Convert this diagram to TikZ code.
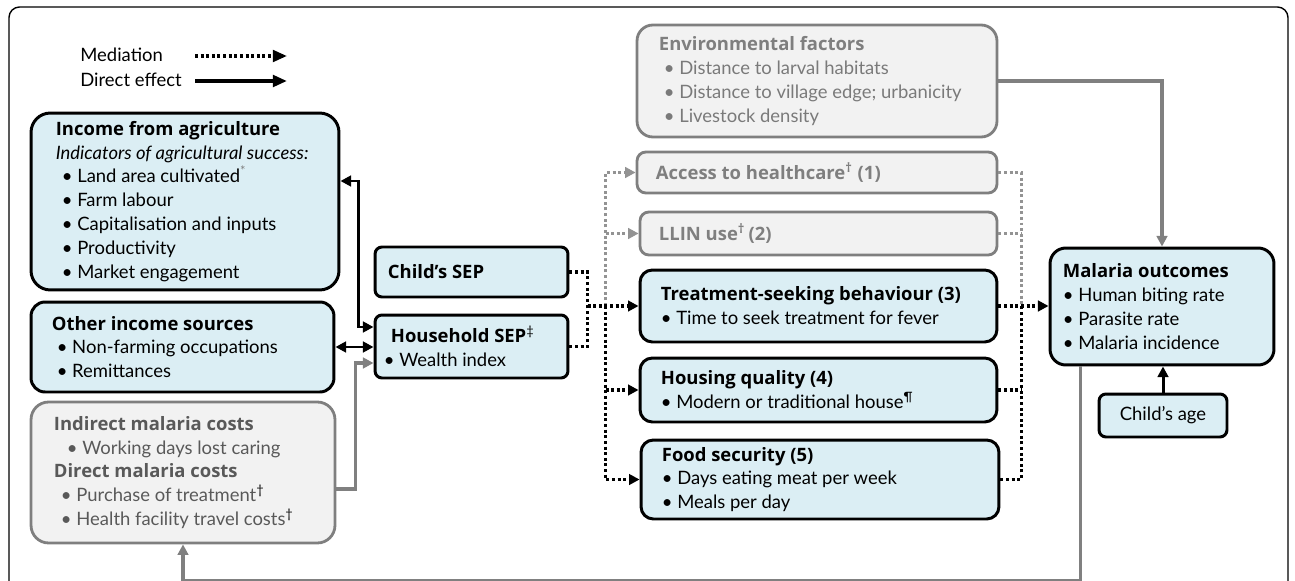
\documentclass[tikz,border=0pt]{standalone}
\usepackage{fontspec}
\setmainfont{Lato}
\newfontfamily\hdfont{Open Sans}
\usetikzlibrary{arrows.meta, positioning, calc}
\definecolor{boxblue}{RGB}{219,238,244}
\definecolor{fillgrey}{RGB}{242,242,242}
\definecolor{edgegrey}{RGB}{127,127,127}
\definecolor{conngrey}{RGB}{128,128,128}
\definecolor{lightgreytext}{RGB}{127,127,127}
\definecolor{darkgreytext}{RGB}{89,89,89}
\newcommand{\bullt}{\textbullet\ }
\newcommand{\hd}[1]{{\hdfont\bfseries #1}}

\begin{document}
\begin{tikzpicture}[x=0.02cm, y=-0.02cm,
  every node/.style={font=\fontsize{10.5}{13.6}\selectfont},
  bluebox/.style={draw=black, line width=1.7pt, fill=boxblue, rounded corners=5pt, inner sep=0pt},
  greybox/.style={draw=edgegrey, line width=1.6pt, fill=fillgrey, rounded corners=5pt, inner sep=0pt},
  boxtext/.style={align=left, inner sep=0pt},
  direct/.style={line width=1.7pt, -{Triangle[length=6pt,width=6pt]}},
  greyline/.style={line width=1.8pt, draw=conngrey, -{Triangle[length=6pt,width=6pt]}},
  medline/.style={line width=1.8pt, dash pattern=on 1.7pt off 1.5pt},
  medgrey/.style={line width=1.6pt, draw=conngrey!85, dash pattern=on 1.7pt off 1.5pt}]
  \useasboundingbox (0,0) rectangle (1295,581);
  \draw[line width=0.8pt, rounded corners=6pt] (9,581) -- (9,7) -- (1288,7) -- (1288,581);

  % legend
  \node[anchor=west, inner sep=0pt] (medlab) at (80,55) {Mediation};
  \node[anchor=west, inner sep=0pt] (dirlab) at (80,80) {Direct effect};
  \coordinate (medA) at (195,56);
  \coordinate (medB) at (287,56);
  \coordinate (dirA) at (195,81);
  \coordinate (dirB) at (287,81);
  \draw[medline, line width=1.9pt, -{Triangle[length=8pt,width=6.5pt]}] (medA) -- (medB);
  \draw[line width=2pt, -{Triangle[length=8pt,width=6.5pt]}] (dirA) -- (dirB);

  % LEFT column: income and costs
  \node[bluebox, rounded corners=11pt, minimum width=6.16cm, minimum height=3.54cm] (inc) at (185,201.5) {};
  \node[boxtext, right=0.52cm of inc.west] (inctxt) {\hd{Income from agriculture}\\
    \textit{Indicators of agricultural success:}\\
    \hspace*{3.4pt}\bullt Land area cultivated\textsuperscript{\color{lightgreytext}*}\\
    \hspace*{3.4pt}\bullt Farm labour\\
    \hspace*{3.4pt}\bullt Capitalisation and inputs\\
    \hspace*{3.4pt}\bullt Productivity\\
    \hspace*{3.4pt}\bullt Market engagement};

  \node[bluebox, rounded corners=8pt, minimum width=6.06cm, minimum height=1.8cm] (oth) at (182.5,347) {};
  \node[boxtext, right=0.44cm of oth.west] (othtxt) {\hd{Other income sources}\\
    \hspace*{2.8pt}\bullt Non-farming occupations\\
    \hspace*{2.8pt}\bullt Remittances};

  \node[greybox, rounded corners=10pt, minimum width=6.08cm, minimum height=2.82cm] (cost) at (183,472.5) {};
  \node[boxtext, right=0.48cm of cost.west, text=darkgreytext] (costtxt) {\hd{Indirect malaria costs}\\
    \hspace*{7.4pt}\bullt Working days lost caring\\
    \hd{Direct malaria costs}\\
    \hspace*{4pt}\bullt Purchase of treatment\textsuperscript{\color{black}†}\\
    \hspace*{4pt}\bullt Health facility travel costs\textsuperscript{\color{black}†}};

  % SEP boxes
  \node[bluebox, rounded corners=4pt, minimum width=3.86cm, minimum height=1.0cm] (child) at (471.5,272) {};
  \node[boxtext, right=0.28cm of child.west] (childtxt) {\hd{Child’s SEP}};
  \node[bluebox, rounded corners=4pt, minimum width=3.86cm, minimum height=1.26cm] (hh) at (471.5,346.5) {};
  \node[boxtext, right=0.2cm of hh.west] (hhtxt) {\hspace*{4pt}\hd{Household SEP}\textsuperscript{‡}\\
    \bullt Wealth index};

  % mediators
  \node[greybox, rounded corners=9pt, minimum width=7.2cm, minimum height=2.24cm] (env) at (817,81) {};
  \node[boxtext, right=0.46cm of env.west, text=darkgreytext!80] (envtxt) {\hd{\color{lightgreytext}Environmental factors}\\
    \hspace*{2.8pt}\bullt Distance to larval habitats\\
    \hspace*{2.8pt}\bullt Distance to village edge; urbanicity\\
    \hspace*{2.8pt}\bullt Livestock density};

  \node[greybox, minimum width=7.2cm, minimum height=0.82cm] (acc) at (817,172.5) {};
  \node[boxtext, right=0.4cm of acc.west, text=lightgreytext] (acctxt) {\hd{Access to healthcare\textsuperscript{†} (1)}};
  \node[greybox, minimum width=7.14cm, minimum height=0.86cm] (llin) at (818.5,233.5) {};
  \node[boxtext, right=0.4cm of llin.west, text=lightgreytext] (llintxt) {\hd{LLIN use\textsuperscript{†}\,(2)}};

  \node[bluebox, rounded corners=7pt, minimum width=7.14cm, minimum height=1.44cm] (treat) at (818.5,306) {};
  \node[boxtext, right=0.44cm of treat.west] (treattxt) {\hd{Treatment-seeking behaviour (3)}\\
    \bullt Time to seek treatment for fever};
  \node[bluebox, rounded corners=7pt, minimum width=7.14cm, minimum height=1.28cm] (house) at (818.5,390) {};
  \node[boxtext, right=0.44cm of house.west] (housetxt) {\hd{Housing quality (4)}\\
    \bullt Modern or traditional house\textsuperscript{¶}};
  \node[bluebox, rounded corners=7pt, minimum width=7.16cm, minimum height=1.58cm] (food) at (820,479.5) {};
  \node[boxtext, right=0.44cm of food.west] (foodtxt) {\hd{Food security (5)}\\
    \bullt Days eating meat per week\\
    \bullt Meals per day};

  % outcome
  \node[bluebox, rounded corners=9pt, minimum width=4.48cm, minimum height=2.34cm] (mal) at (1162,306.5) {};
  \node[boxtext, right=0.28cm of mal.west] (maltxt) {\hd{Malaria outcomes}\\
    \bullt Human biting rate\\
    \bullt Parasite rate\\
    \bullt Malaria incidence};
  \node[bluebox, rounded corners=4pt, minimum width=2.56cm, minimum height=0.86cm] (age) at (1163,415.5) {Child’s age};

  % direct effects
  \draw[direct, {Triangle[length=6pt,width=6pt]}-{Triangle[length=6pt,width=6pt]}]
    ($(inc.east)+(0,-20.5)$) -- ++(18,0) |- ($(hh.west)+(0,-19.5)$);
  \draw[direct, {Triangle[length=6pt,width=6pt]}-{Triangle[length=6pt,width=6pt]}]
    (oth.east) -- (oth.east -| hh.west);
  \draw[greyline] ($(cost.east)+(0,16.5)$) -- ++(19,0) |- ($(hh.west)+(0,16.5)$);
  \draw[greyline] (env.east) -| (mal.north);
  \draw[direct] (age.north) -- (age.north |- mal.south);
  \draw[greyline] ($(mal.south west)+(32,0)$) -- ++(0,214) -| (cost.south);

  % mediation paths
  \coordinate (medj) at ($(treat.west)+(-51,0)$);
  \coordinate (medv) at ($(treat.west)+(-33,0)$);
  \coordinate (medr) at ($(treat.east)+(23,0)$);
  \draw[medgrey, -{Triangle[length=6pt,width=6pt]}] (medv) |- (acc.west);
  \draw[medgrey, -{Triangle[length=6pt,width=6pt]}] (medv |- llin.west) -- (llin.west);
  \draw[medgrey] (acc.east) -| (medr);
  \draw[medgrey] (llin.east) -- (llin.east -| medr);
  \draw[medline] (child.east) -| (medj);
  \draw[medline] (hh.east) -| (medj);
  \draw[medline, -{Triangle[length=6pt,width=6pt]}] (medj) -- (treat.west);
  \draw[medline, -{Triangle[length=6pt,width=6pt]}] (medv) |- (food.west);
  \draw[medline, -{Triangle[length=6pt,width=6pt]}] (medv |- house.west) -- (house.west);
  \draw[medline] (food.east) -| (medr);
  \draw[medline] (house.east) -- (house.east -| medr);
  \draw[medline, -{Triangle[length=6pt,width=6pt]}] (treat.east) -- (treat.east -| mal.west);
\end{tikzpicture}
\end{document}
